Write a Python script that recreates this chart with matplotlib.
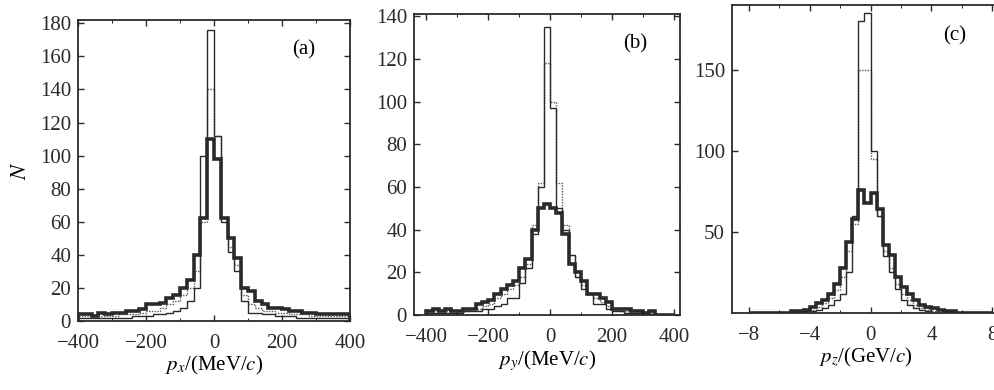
import numpy as np
import matplotlib
matplotlib.use('Agg')
import matplotlib.pyplot as plt
from matplotlib.ticker import MultipleLocator

plt.rcParams['font.family'] = ['Liberation Serif', 'DejaVu Serif']
plt.rcParams['mathtext.fontset'] = 'stix'

# ---- data: bin edges and counts ----
edges_mev = np.arange(-400, 401, 20)     # 40 bins, panels (a) and (b)
edges_gev = np.arange(-8, 8.01, 0.4)     # 40 bins, panel (c)

# (a) p_x
a_thick = [4, 4, 3, 5, 4, 5, 5, 6, 6, 7,
           10, 10, 11, 14, 16, 20, 25, 40, 62, 110,
           98, 62, 50, 38, 20, 18, 12, 10, 8, 8,
           7, 6, 6, 5, 5, 4, 4, 4, 4, 4]
a_thin = [2, 2, 2, 2, 2, 2, 2, 2, 3, 3,
          3, 4, 4, 5, 6, 8, 12, 20, 100, 176,
          112, 60, 42, 30, 12, 5, 5, 4, 4, 3,
          3, 3, 2, 2, 2, 2, 2, 2, 2, 2]
a_dot = [3, 3, 3, 3, 3, 3, 4, 4, 4, 5,
         6, 6, 8, 10, 12, 16, 20, 30, 60, 140,
         112, 62, 45, 34, 16, 10, 8, 6, 6, 5,
         5, 4, 4, 4, 3, 3, 3, 3, 3, 3]

# (b) p_y
b_thick = [2, 3, 2, 3, 2, 2, 3, 3, 5, 6,
           7, 10, 12, 14, 16, 22, 26, 40, 50, 52,
           50, 48, 38, 24, 20, 16, 10, 10, 8, 6,
           3, 3, 3, 2, 2, 1, 2, 0, 0, 0]
b_thin = [1, 1, 1, 1, 1, 1, 2, 2, 2, 3,
          3, 4, 5, 8, 8, 15, 22, 38, 60, 135,
          97, 50, 40, 28, 18, 12, 10, 5, 5, 3,
          2, 2, 1, 1, 1, 0, 0, 0, 0, 0]
b_dot = [1, 2, 1, 2, 2, 2, 2, 3, 3, 4,
         5, 8, 10, 12, 14, 18, 24, 42, 62, 118,
         100, 62, 42, 28, 18, 14, 10, 8, 6, 4,
         3, 2, 2, 1, 1, 1, 1, 0, 0, 0]

# (c) p_z
c_thick = [0, 0, 0, 0, 0, 0, 0, 1, 1, 2,
           4, 6, 8, 12, 18, 28, 44, 58, 76, 68,
           74, 64, 42, 36, 22, 16, 12, 8, 5, 4,
           3, 2, 1, 1, 0, 0, 0, 0, 0, 0]
c_thin = [0, 0, 0, 0, 0, 0, 0, 0, 0, 1,
          1, 2, 3, 5, 8, 12, 25, 60, 180, 185,
          100, 60, 35, 25, 15, 8, 5, 3, 2, 1,
          0, 0, 0, 0, 0, 0, 0, 0, 0, 0]
c_dot = [0, 0, 0, 0, 0, 0, 0, 0, 1, 1,
         2, 4, 6, 9, 14, 22, 38, 55, 150, 150,
         95, 60, 38, 28, 18, 12, 8, 5, 3, 2,
         1, 0, 0, 0, 0, 0, 0, 0, 0, 0]

W, H = 995, 390
fig = plt.figure(figsize=(W / 100, H / 100), dpi=100)

def px_axes(left, right, top, bottom):
    return fig.add_axes([left / W, 1 - bottom / H, (right - left) / W, (bottom - top) / H])

ink = '#2a2a2a'
panels = [
    (px_axes(78, 350, 20, 321), edges_mev, a_thick, a_thin, a_dot,
     (-400, 400), (0, 182), '(a)', r'$p_x$/(MeV/$c$)'),
    (px_axes(414, 680, 14, 315), edges_mev, b_thick, b_thin, b_dot,
     (-440, 420), (0, 141), '(b)', r'$p_y$/(MeV/$c$)'),
    (px_axes(732, 1000, 5, 313), edges_gev, c_thick, c_thin, c_dot,
     (-9.1, 8.5), (0, 190), '(c)', r'$p_z$/(GeV/$c$)'),
]

for i, (ax, edges, thick, thin, dot, xl, yl, tag, xlabel) in enumerate(panels):
    ax.stairs(dot, edges, color='#555555', lw=1.0, ls=(0, (1, 1)))
    ax.stairs(thin, edges, color=ink, lw=1.0)
    ax.stairs(thick, edges, color=ink, lw=2.6)
    ax.set_xlim(*xl)
    ax.set_ylim(*yl)
    ax.text(0.83, 0.9, tag, transform=ax.transAxes, fontsize=15, ha='center', va='center')
    ax.set_xlabel(xlabel, fontsize=15, labelpad=1)
    for s in ax.spines.values():
        s.set_color(ink)
        s.set_linewidth(1.3)
    ax.tick_params(direction='in', top=True, right=True, labelsize=15,
                   length=4, width=1, colors=ink)
    ax.tick_params(axis='x', pad=9)
    ax.tick_params(axis='y', pad=5)
    ax.tick_params(which='minor', direction='in', top=True, right=True, length=2.5)

for ax in (panels[0][0], panels[1][0]):
    ax.set_xticks([-400, -200, 0, 200, 400])
    ax.xaxis.set_minor_locator(MultipleLocator(100))
    ax.yaxis.set_major_locator(MultipleLocator(20))

cax = panels[2][0]
cax.set_xticks([-8, -4, 0, 4, 8])
cax.xaxis.set_minor_locator(MultipleLocator(2))
cax.set_yticks([50, 100, 150])

panels[0][0].set_ylabel(r'$N$', fontsize=16, labelpad=6)

fig.savefig('out.png', dpi=100, facecolor='white')
